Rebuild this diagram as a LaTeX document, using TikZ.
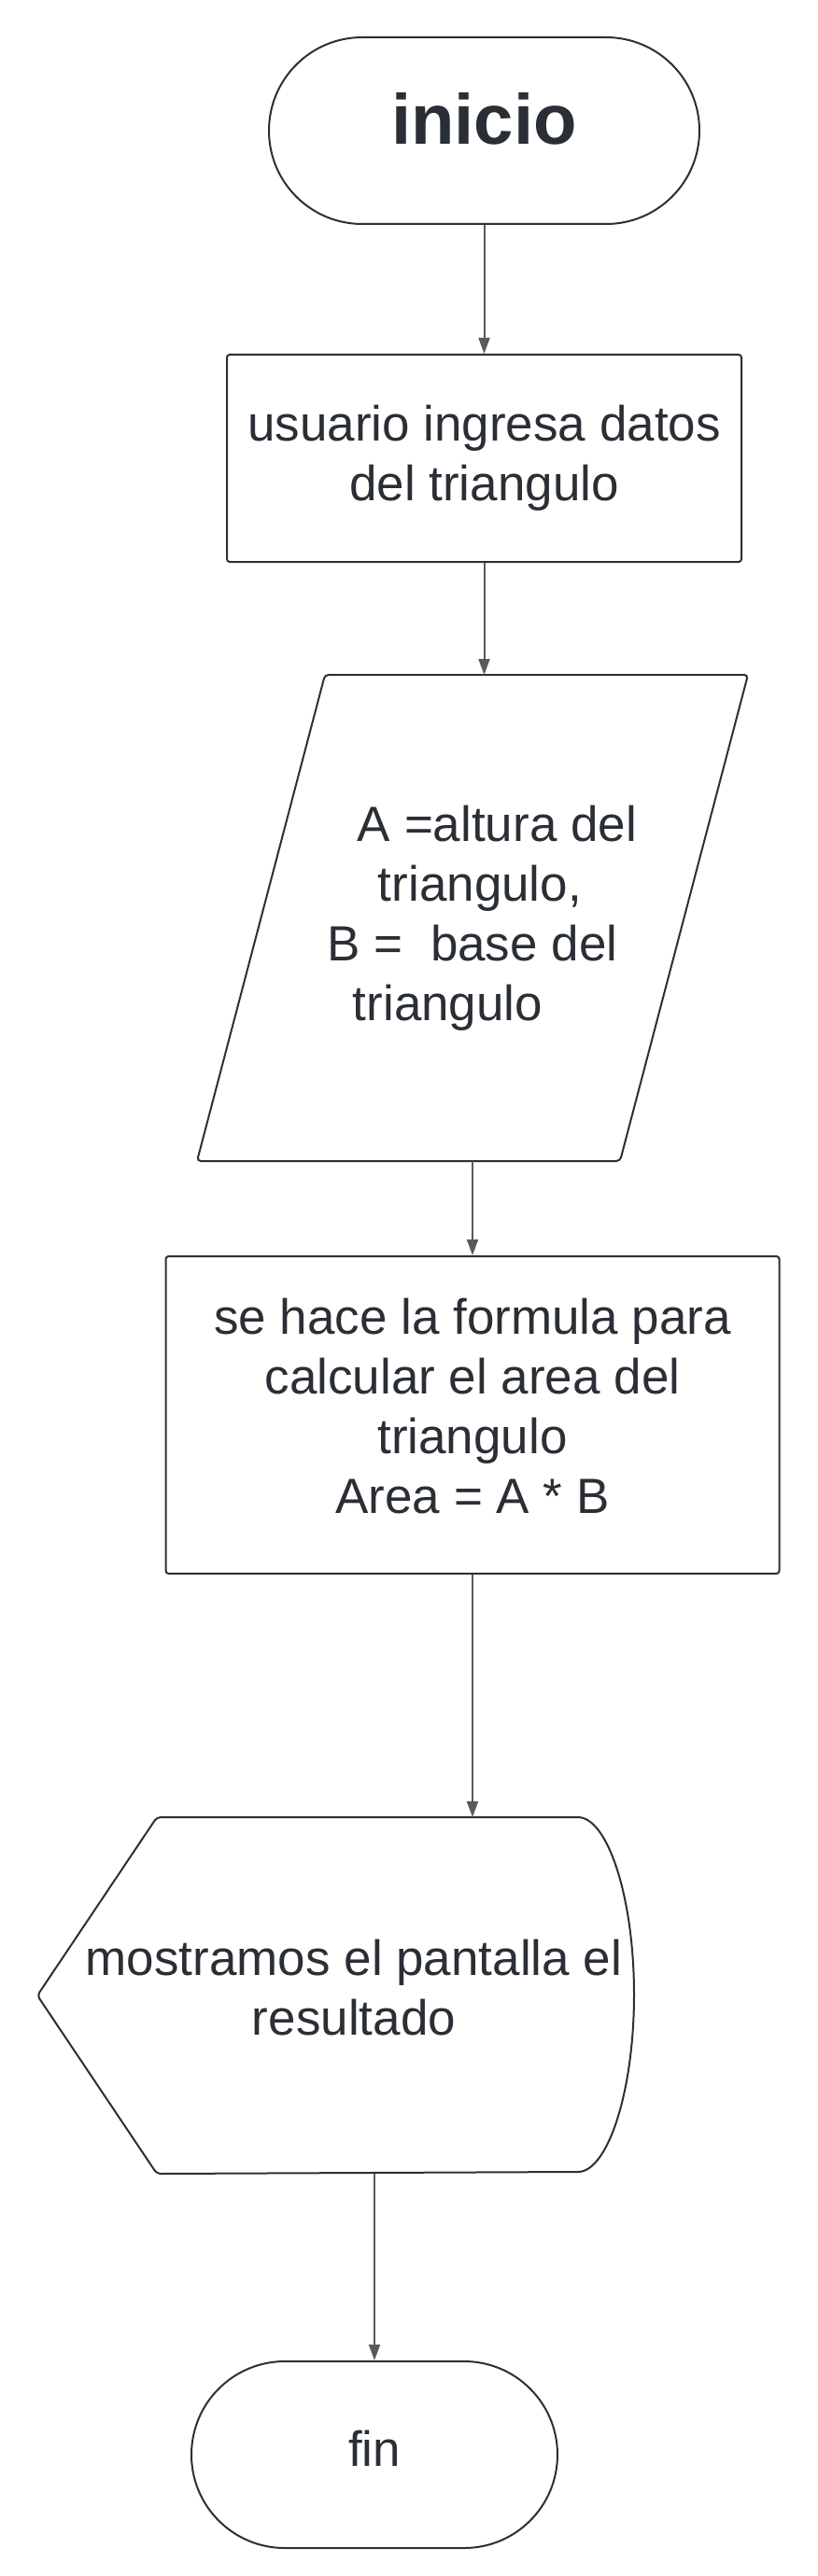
\documentclass[tikz,border=0pt]{standalone}
\usepackage{fontspec}
\setmainfont{Liberation Sans}
\usepackage{tikz}
\usetikzlibrary{positioning,calc,arrows.meta}
\definecolor{FlowInk}{HTML}{2A2E35}
\definecolor{FlowLine}{HTML}{2C2F34}
\definecolor{FlowArrow}{HTML}{5A5A5A}

\begin{document}
\begin{tikzpicture}[
    box/.style={draw=FlowLine, line width=1pt, text=FlowInk, align=center,
      font=\fontsize{26.5pt}{32pt}\selectfont},
    terminal/.style={box, rounded corners=50pt, minimum height=100pt},
    process/.style={box, rounded corners=1.5pt},
    io/.style={box, draw=none, minimum width=294pt, minimum height=259.5pt},
    display/.style={box, draw=none, minimum width=338pt, minimum height=190pt},
    outline/.style={draw=FlowLine, line width=1pt, rounded corners=2pt},
    arrow/.style={-{Triangle[length=8.5pt, width=6pt]}, line width=1pt, draw=FlowArrow}
  ]
    \useasboundingbox (0,0) rectangle (437.5pt,-1380pt);
    \node[terminal, minimum width=230.5pt, text depth=13pt,
      font=\fontsize{38pt}{44pt}\selectfont\bfseries] (inicio) at (259.25pt,-70pt) {inicio};
    \node[process, below=69pt of inicio, minimum width=275.5pt, minimum height=111pt] (ingreso)
      {usuario ingresa datos\\del triangulo};
    \node[io, below=60pt of ingreso, xshift=-6.25pt] (datos)
      {\hspace*{1em}A =altura del\\\hspace*{0.3em}triangulo,\\B =\ \ base del\hspace*{0.32em}\\triangulo\hspace*{1em}};
    \node[process, below=50.5pt of datos, minimum width=328.5pt, minimum height=170pt, text depth=10pt] (formula)
      {se hace la formula para\\calcular el area del\\triangulo\\Area = A * B};
    \node[display, below=130pt of formula, xshift=-63.5pt, text depth=9pt] (pantalla)
      {mostramos el pantalla el\\resultado};
    \node[terminal, below=100pt of pantalla, xshift=11pt, minimum width=196pt, text depth=7pt] (fin) {fin};
    \draw[outline] ([xshift=68.5pt]datos.north west) -- (datos.north east)
      -- ([xshift=-68.5pt]datos.south east) -- (datos.south west) -- cycle;
    \draw[outline] (pantalla.west) -- ([xshift=64pt]pantalla.north west) -- ([xshift=287.5pt]pantalla.north west)
      arc[start angle=90, end angle=-90, x radius=32pt, y radius=95pt]
      -- ([xshift=64pt]pantalla.south west) -- cycle;
    \draw[arrow] (inicio) -- (ingreso);
    \draw[arrow] (ingreso) -- (ingreso |- datos.north);
    \draw[arrow] (datos) -- (formula);
    \draw[arrow] (formula) -- (formula |- pantalla.north);
    \draw[arrow] (fin |- pantalla.south) -- (fin);
\end{tikzpicture}
\end{document}
